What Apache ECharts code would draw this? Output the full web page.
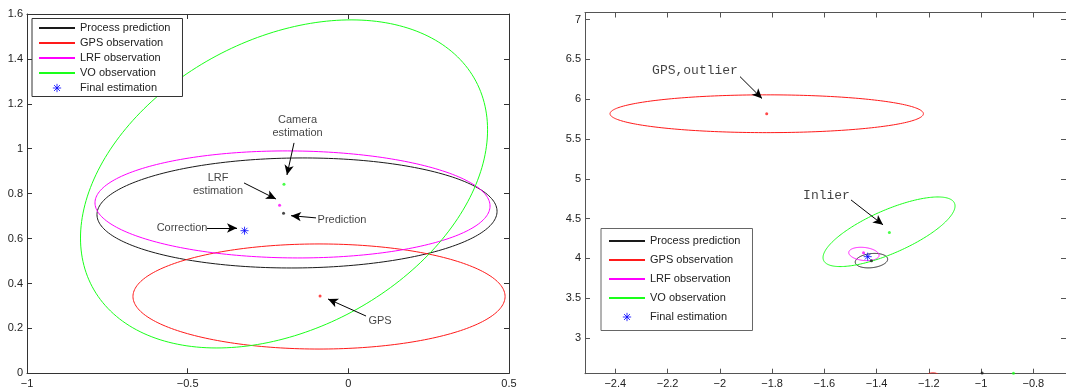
<!DOCTYPE html>
<html>
<head>
<meta charset="utf-8">
<script src="https://cdn.jsdelivr.net/npm/echarts@6/dist/echarts.min.js"></script>
<style>html,body{margin:0;padding:0;background:#fff}#c{width:1066px;height:390px}</style>
</head>
<body>
<div id="c"></div>
<script>
// ---------- DATA ----------
// ellipses: [centerX, centerY, halfWidthX, halfHeightY, correlation]
const leftProcess = [[-0.1597, 0.714, 0.6225, 0.245, 0.03]];
const leftGPS     = [[-0.0912, 0.342, 0.579, 0.234, 0.0]];
const leftLRF     = [[-0.1737, 0.752, 0.6147, 0.2383, -0.03]];
const leftVO      = [[-0.2001, 0.8433, 0.6334, 0.7305, 0.33]];
const rightProcess = [[-1.4196, 3.971, 0.062, 0.091, 0.2]];
const rightGPS     = [[-1.8205, 5.8175, 0.5997, 0.2375, 0.0], [-1.184, 2.50, 0.027, 0.062, 0.0]];
const rightLRF     = [[-1.4485, 4.055, 0.058, 0.084, -0.2]];
const rightVO      = [[-1.3523, 4.334, 0.2526, 0.4375, 0.74]];
// estimate points [x, y]
const leftPoints = {
  process: [[-0.2016, 0.7127]], gps: [[-0.088, 0.344]], lrf: [[-0.214, 0.748]], vo: [[-0.2003, 0.842]]
};
const rightPoints = {
  process: [[-1.4197, 3.97], [-0.996, 2.56]], gps: [[-1.8205, 5.8175]], lrf: [[-1.45, 4.07]], vo: [[-1.351, 4.325], [-0.876, 2.555]]
};
const leftFinal = [[-0.323, 0.635]];
const rightFinal = [[-1.434, 4.021]];
// annotations: text, text position, arrow start, arrow tip
const leftNotes = [
  { text: 'Camera\nestimation', at: [-0.158, 1.099], from: [-0.169, 1.026], to: [-0.191, 0.883] },
  { text: 'LRF\nestimation', at: [-0.4055, 0.841], from: [-0.3246, 0.8477], to: [-0.225, 0.776] },
  { text: 'Prediction', at: [-0.0196, 0.683], from: [-0.1005, 0.692], to: [-0.1783, 0.702] },
  { text: 'Correction', at: [-0.5176, 0.647], from: [-0.4398, 0.647], to: [-0.3464, 0.647] },
  { text: 'GPS', at: [0.0987, 0.233], from: [0.0551, 0.255], to: [-0.0632, 0.331] }
];
const rightNotes = [
  { text: 'GPS,outlier', at: [-2.095, 6.359], from: [-1.9227, 6.284], to: [-1.8385, 6.009] },
  { text: 'Inlier', at: [-1.5916, 4.784], from: [-1.4978, 4.734], to: [-1.3753, 4.421] }
];
// axis ticks
const leftXTicks = { min: -1, max: 0.5, interval: 0.5 };
const leftYTicks = { min: 0, max: 1.6, interval: 0.2 };
const rightXTicks = [-2.4, -2.2, -2, -1.8, -1.6, -1.4, -1.2, -1, -0.8];
const rightYTicks = [3, 3.5, 4, 4.5, 5, 5.5, 6, 6.5, 7];
const rightXRange = [-2.516, -0.675];
const rightYRange = [2.55, 7.09];
const names = ['Process prediction', 'GPS observation', 'LRF observation', 'VO observation', 'Final estimation'];

// ---------- STYLE ----------
const COLORS = { process: '#1a1a1a', gps: '#ff1a1a', lrf: '#ff00ff', vo: '#1aff1a', final: '#0000ff' };
const FONT = 'Liberation Sans';
const STAR = 'path://M0,-5L0,5M-5,0L5,0M-3.6,-3.6L3.6,3.6M-3.6,3.6L3.6,-3.6';
const STAR_ICON = 'path://M-6,-6M6,6M0,-5L0,5M-5,0L5,0M-3.6,-3.6L3.6,3.6M-3.6,3.6L3.6,-3.6';

function minus(v) { return String(+(+v).toFixed(4)).replace('-', '\u2212'); }

function ellipseRender(params, api) {
  const cx = api.value(0), cy = api.value(1), hx = api.value(2), hy = api.value(3), rho = api.value(4);
  const s = Math.sqrt(1 - rho * rho);
  const pts = [];
  for (let i = 0; i <= 240; i++) {
    const t = i / 240 * 2 * Math.PI;
    pts.push(api.coord([cx + hx * Math.cos(t), cy + hy * (rho * Math.cos(t) + s * Math.sin(t))]));
  }
  const cs = params.coordSys;
  return {
    type: 'polyline',
    shape: { points: pts },
    clipPath: { type: 'rect', shape: { x: cs.x, y: cs.y, width: cs.width, height: cs.height } },
    style: { stroke: api.visual('color'), fill: null, lineWidth: 1 }
  };
}

function axisPair(dim, gridIndex, cfg, axisColor, withLabels, position) {
  const a = {
    type: 'value', gridIndex, position,
    min: cfg.min, max: cfg.max,
    splitLine: { show: false },
    axisLine: { show: true, onZero: false, lineStyle: { color: axisColor, width: 1 } },
    axisTick: { show: true, inside: true, length: 5, lineStyle: { color: axisColor } },
    axisLabel: { show: withLabels, color: '#222', fontFamily: FONT, fontSize: 11, margin: dim === 'x' ? 5 : 4, formatter: minus, showMinLabel: true, showMaxLabel: true }
  };
  if (cfg.interval !== undefined) a.interval = cfg.interval;
  if (cfg.ticks) { a.axisTick.customValues = cfg.ticks; a.axisLabel.customValues = cfg.ticks; }
  return a;
}

const LAX = '#333', RAX = '#555';
const lx = leftXTicks, ly = leftYTicks;
const rx = { min: rightXRange[0], max: rightXRange[1], ticks: rightXTicks };
const ry = { min: rightYRange[0], max: rightYRange[1], ticks: rightYTicks };

const xAxis = [
  axisPair('x', 0, lx, LAX, true, 'bottom'),
  axisPair('x', 0, lx, LAX, false, 'top'),
  axisPair('x', 1, rx, RAX, true, 'bottom'),
  axisPair('x', 1, rx, RAX, false, 'top')
];
const yAxis = [
  axisPair('y', 0, ly, LAX, true, 'left'),
  axisPair('y', 0, ly, LAX, false, 'right'),
  axisPair('y', 1, ry, RAX, true, 'left'),
  axisPair('y', 1, ry, RAX, false, 'right')
];

const series = [];
// legend-only line series
const keys = ['process', 'gps', 'lrf', 'vo'];
keys.forEach((k, i) => {
  series.push({ type: 'line', name: names[i], data: [], symbol: 'none', xAxisIndex: 0, yAxisIndex: 0,
    lineStyle: { color: COLORS[k], width: 1 }, itemStyle: { color: COLORS[k] } });
});
const ellSets = [
  [leftProcess, rightProcess], [leftGPS, rightGPS], [leftLRF, rightLRF], [leftVO, rightVO]
];
ellSets.forEach((pair, i) => {
  pair.forEach((d, g) => {
    series.push({ type: 'custom', name: names[i], renderItem: ellipseRender, data: d,
      xAxisIndex: g * 2, yAxisIndex: g * 2, itemStyle: { color: COLORS[keys[i]] }, silent: true, z: 2 });
  });
});
// estimate dots
[leftPoints, rightPoints].forEach((pts, g) => {
  keys.forEach(k => {
    series.push({ type: 'scatter', name: 'dot-' + k + g, data: pts[k], symbol: 'circle', symbolSize: 3,
      xAxisIndex: g * 2, yAxisIndex: g * 2, itemStyle: { color: COLORS[k] }, silent: true, z: 3 });
  });
});
// final estimation stars
[leftFinal, rightFinal].forEach((d, g) => {
  series.push({ type: 'scatter', name: names[4], data: d, symbol: STAR, symbolSize: 8,
    xAxisIndex: g * 2, yAxisIndex: g * 2,
    itemStyle: { color: 'rgba(0,0,0,0)', borderColor: COLORS.final, borderWidth: 1 }, silent: true, z: 4 });
});
// annotations
[leftNotes, rightNotes].forEach((notes, g) => {
  const mono = g === 1;
  series.push({
    type: 'scatter', name: 'notes' + g, xAxisIndex: g * 2, yAxisIndex: g * 2, silent: true, z: 5,
    symbol: 'circle', symbolSize: 1, itemStyle: { color: 'rgba(0,0,0,0)' },
    data: notes.map(n => ({ name: n.text, value: n.at })),
    label: { show: true, position: 'inside', formatter: '{b}', color: '#111',
      fontFamily: mono ? 'Liberation Mono' : FONT, fontSize: mono ? 13 : 11, lineHeight: 13, align: 'center' },
    markLine: {
      silent: true, animation: false, symbol: ['none', 'arrow'], symbolSize: [7, 10],
      lineStyle: { color: '#000', width: 1, type: 'solid' }, label: { show: false },
      emphasis: { disabled: true },
      data: notes.map(n => [{ coord: n.from }, { coord: n.to }])
    }
  });
});

const legendBase = {
  orient: 'vertical', itemWidth: 36, itemHeight: 10,
  data: names.map((n, i) => i === 4
    ? { name: n, icon: STAR_ICON, itemStyle: { color: 'rgba(0,0,0,0)', borderColor: COLORS.final, borderWidth: 1 } }
    : { name: n, itemStyle: { opacity: 0 } }),
  textStyle: { fontFamily: FONT, fontSize: 11, color: '#222' }, selectedMode: false, backgroundColor: '#fff', z: 10
};

const option = {
  animation: false,
  grid: [
    { left: 27, right: 557, top: 14, bottom: 16.7 },
    { left: 585, right: 0, top: 12.5, bottom: 16.3 }
  ],
  xAxis, yAxis, series,
  legend: [
    Object.assign({}, legendBase, { left: 32, top: 18.5, padding: [4, 12, 3, 6], itemGap: 4, borderColor: '#333', borderWidth: 1 }),
    Object.assign({}, legendBase, { left: 601, top: 228.5, padding: [7, 12, 8, 7], itemGap: 8, borderColor: '#666', borderWidth: 1 })
  ]
};
const chart = echarts.init(document.getElementById('c'));
chart.setOption(option);
</script>
</body>
</html>
